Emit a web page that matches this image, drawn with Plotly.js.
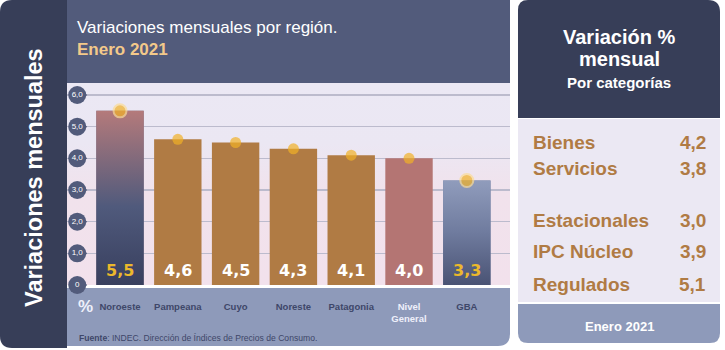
<!DOCTYPE html>
<html>
<head>
<meta charset="utf-8">
<script src="https://cdn.plot.ly/plotly-3.0.1.min.js"></script>
<style>html,body{margin:0;padding:0;background:#fff;}#chart{width:725px;height:350px;}</style>
</head>
<body>
<div id="chart"></div>
<script>
// ---- Data ----
const regions = ["Noroeste", "Pampeana", "Cuyo", "Noreste", "Patagonia", "Nivel General", "GBA"];
const regionValues = [5.5, 4.6, 4.5, 4.3, 4.1, 4.0, 3.3];
const yTickValues = [0, 1, 2, 3, 4, 5, 6];
const yTickLabels = ["0", "1,0", "2,0", "3,0", "4,0", "5,0", "6,0"];
const categoryNames = ["Bienes", "Servicios", "Estacionales", "IPC Núcleo", "Regulados"];
const categoryValues = [4.2, 3.8, 3.0, 3.9, 5.1];
const chartTitle = "Variaciones mensuales por región.";
const periodLabel = "Enero 2021";
const sideTitle = "Variaciones mensuales";
const sourceText = "<b>Fuente</b>: INDEC. Dirección de Índices de Precios de Consumo.";

// ---- Layout helpers (pixels -> paper) ----
const W = 725, H = 350;
const px = x => x / W;
const py = y => 1 - y / H;
function roundRect(x0, y0, x1, y1, r) {
  const [tl, tr, br, bl] = r;
  const P = (x, y) => px(x).toFixed(5) + "," + py(y).toFixed(5);
  let d = "M" + P(x0 + tl, y0) + " L" + P(x1 - tr, y0);
  d += tr ? " Q" + P(x1, y0) + " " + P(x1, y0 + tr) : "";
  d += " L" + P(x1, y1 - br);
  d += br ? " Q" + P(x1, y1) + " " + P(x1 - br, y1) : "";
  d += " L" + P(x0 + bl, y1);
  d += bl ? " Q" + P(x0, y1) + " " + P(x0, y1 - bl) : "";
  d += " L" + P(x0, y0 + tl);
  d += tl ? " Q" + P(x0, y0) + " " + P(x0 + tl, y0) : "";
  return d + " Z";
}
const panel = (x0, y0, x1, y1, r, color) => ({
  type: "path", xref: "paper", yref: "paper", layer: "below",
  path: roundRect(x0, y0, x1, y1, r), fillcolor: color, line: {width: 0}
});

const fmt = v => v.toFixed(1).replace(".", ",");
const FONT = "Liberation Sans, Arial, sans-serif";
const DARK = "#373e58", BANNER = "#525b7b", BAND = "#8e9aba", BODY = "#ebe8f3";
const OCHRE = "#b07b44", ROSE = "#b47573", GOLD = "#f1b126";

const maxIdx = regionValues.indexOf(Math.max(...regionValues));
const minIdx = regionValues.indexOf(Math.min(...regionValues));
const isGeneral = name => name === "Nivel General";
const xIdx = regions.map((_, i) => i);
const BAR_W = 0.82;

const barColors = regions.map((n, i) => i === maxIdx ? "#7a6a80" : i === minIdx ? "#6f7b9d" : isGeneral(n) ? ROSE : OCHRE);

const traces = [];
traces.push({
  type: "bar", x: xIdx, y: regionValues, width: BAR_W,
  marker: {color: barColors, line: {width: 0}}, hoverinfo: "skip", showlegend: false
});

// gradient overlays for highlighted bars
const gradFor = {};
gradFor[maxIdx] = [[0, "#383f5e"], [0.45, "#505a7c"], [1, "#b47a7b"]];
gradFor[minIdx] = [[0, "#4a5374"], [0.5, "#6f7b9e"], [1, "#909cbc"]];
Object.keys(gradFor).forEach(k => {
  const i = +k, v = regionValues[i];
  traces.push({
    type: "scatter", mode: "lines", fill: "toself",
    x: [i - BAR_W / 2, i + BAR_W / 2, i + BAR_W / 2, i - BAR_W / 2, i - BAR_W / 2],
    y: [0, 0, v, v, 0],
    line: {width: 0},
    fillgradient: {type: "vertical", colorscale: gradFor[k], start: 0, stop: v},
    hoverinfo: "skip", showlegend: false
  });
});

// dots on top of bars
const hl = i => i === maxIdx || i === minIdx;
traces.push({
  type: "scatter", mode: "markers", x: xIdx, y: regionValues, cliponaxis: false,
  marker: {
    color: GOLD,
    size: regions.map((n, i) => hl(i) ? 13 : 11),
    line: {
      color: regions.map((n, i) => hl(i) ? "#fbdc96" : GOLD),
      width: regions.map((n, i) => hl(i) ? 2 : 0)
    }
  },
  hoverinfo: "skip", showlegend: false
});

// y tick bubbles
const bubbleX = -0.74, pointerX = -0.645;
traces.push({
  type: "scatter", mode: "markers", x: yTickValues.map(() => pointerX), y: yTickValues,
  marker: {symbol: "triangle-right", size: 9, color: BANNER}, cliponaxis: false,
  hoverinfo: "skip", showlegend: false
});
traces.push({
  type: "scatter", mode: "markers+text", x: yTickValues.map(() => bubbleX), y: yTickValues,
  text: yTickLabels, textposition: "middle center",
  textfont: {family: FONT, size: 8, color: "#ffffff"},
  marker: {symbol: "circle", size: 18, color: BANNER}, cliponaxis: false,
  hoverinfo: "skip", showlegend: false
});

const annotations = [];
regionValues.forEach((v, i) => {
  annotations.push({
    xref: "x", yref: "y", x: i, y: 0.45, text: "<b>" + fmt(v) + "</b>", showarrow: false,
    font: {family: "DejaVu Sans, sans-serif", size: 16, color: hl(i) ? "#ebb82c" : "#ffffff"},
    xanchor: "center", yanchor: "middle"
  });
});
const paperText = (x, y, text, size, color, xanchor, extra) => Object.assign({
  xref: "paper", yref: "paper", x: px(x), y: py(y), text: text, showarrow: false,
  font: {family: FONT, size: size, color: color}, xanchor: xanchor || "left", yanchor: "middle"
}, extra || {});

annotations.push(paperText(34, 178, "<b>" + sideTitle + "</b>", 23.5, "#ffffff", "center", {textangle: -90}));
annotations.push(paperText(76, 306, "<b>%</b>", 17, "#eef0fa", "left"));
annotations.push(paperText(77, 338, sourceText, 8.6, "#3e4769", "left"));

// right panel
annotations.push(paperText(619, 37, "<b>Variación %</b>", 20, "#ffffff", "center"));
annotations.push(paperText(619, 59, "<b>mensual</b>", 20, "#ffffff", "center"));
annotations.push(paperText(619, 82, "<b>Por categorías</b>", 15, "#ffffff", "center"));
const rowY = [142, 168, 220, 251, 284];
categoryNames.forEach((n, i) => {
  annotations.push(paperText(531, rowY[i], "<b>" + n + "</b>", 19, OCHRE, "left"));
  annotations.push(paperText(708, rowY[i], "<b>" + fmt(categoryValues[i]) + "</b>", 19, OCHRE, "right"));
});
annotations.push(paperText(619, 326, "<b>" + periodLabel + "</b>", 13, "#ffffff", "center"));

const bgSvg = "<svg xmlns='http://www.w3.org/2000/svg' width='10' height='100' preserveAspectRatio='none'>" +
  "<defs><linearGradient id='g' x1='0' y1='0' x2='0' y2='1'>" +
  "<stop offset='0' stop-color='#ebe8f4'/><stop offset='0.3' stop-color='#ebe7f3'/>" +
  "<stop offset='0.55' stop-color='#f1e2ec'/><stop offset='1' stop-color='#f2e1ec'/>" +
  "</linearGradient></defs><rect width='10' height='100' fill='url(#g)'/></svg>";

const tickText = regions.map(n => isGeneral(n)
  ? "<span style='color:#eef0fa'>" + n.replace(" ", "<br>") + "</span>" : n);

const layout = {
  width: W, height: H,
  margin: {l: 0, r: 0, t: 0, b: 0, pad: 0},
  paper_bgcolor: "#ffffff", plot_bgcolor: "rgba(0,0,0,0)",
  showlegend: false,
  title: {
    text: chartTitle + "<br><span style='color:#f3c98a'><b>" + periodLabel + "</b></span>",
    font: {family: FONT, size: 17, color: "#ffffff"},
    xref: "paper", yref: "paper", x: px(77), xanchor: "left", y: py(33), yanchor: "top"
  },
  xaxis: {
    domain: [px(67), px(510)], range: [-0.917, 6.747], fixedrange: true,
    tickmode: "array", tickvals: xIdx, ticktext: tickText,
    tickfont: {family: "Liberation Sans Narrow, Arial Narrow, Liberation Sans, sans-serif", size: 9.5, color: "#3e4769", weight: "bold"},
    ticks: "", ticklabelstandoff: 11,
    showgrid: false, zeroline: false, layer: "below traces",
    showline: true, linecolor: "#ffffff", linewidth: 2.5
  },
  yaxis: {
    domain: [py(285), py(83)], range: [0, 6.379], fixedrange: true,
    tickmode: "array", tickvals: [1, 2, 3, 4, 5, 6], showticklabels: false, ticks: "",
    showgrid: true, gridcolor: "#bcbbcd", gridwidth: 1.5, zeroline: false
  },
  bargap: 0.18,
  images: [{
    source: "data:image/svg+xml;charset=utf-8," + encodeURIComponent(bgSvg),
    xref: "paper", yref: "paper", x: px(67), y: py(83), sizex: 443 / W, sizey: 202 / H,
    xanchor: "left", yanchor: "top", sizing: "stretch", layer: "below"
  }],
  shapes: [
    panel(0, 0, 67, 348, [12, 0, 0, 12], DARK),
    panel(67, 0, 510, 83, [0, 0, 0, 0], BANNER),
    panel(67, 285, 510, 346, [0, 0, 12, 0], BAND),
    panel(518, 0, 720, 118, [10, 12, 0, 0], DARK),
    panel(518, 119, 720, 302, [0, 0, 0, 0], BODY),
    panel(518, 304, 720, 343, [0, 0, 10, 10], BAND)
  ],
  annotations: annotations
};

Plotly.newPlot("chart", traces, layout, {staticPlot: true, displayModeBar: false});
</script>
</body>
</html>
